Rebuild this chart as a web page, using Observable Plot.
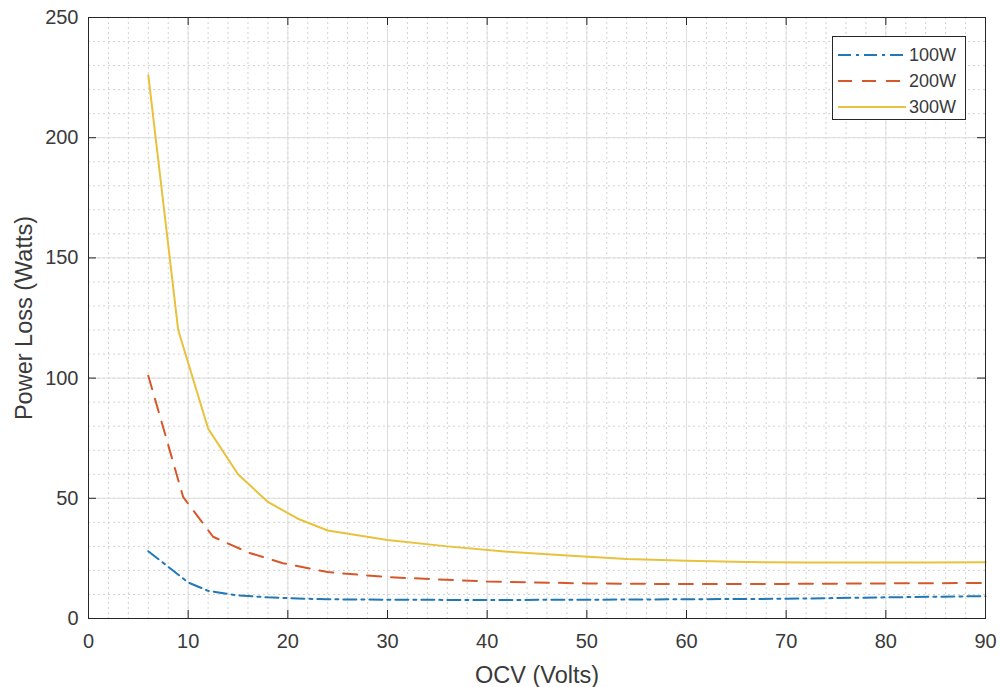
<!DOCTYPE html>
<html><head><meta charset="utf-8">
<script src="https://cdn.jsdelivr.net/npm/d3@7"></script>
<script src="https://cdn.jsdelivr.net/npm/@observablehq/plot@0.6"></script>
<style>
html,body{margin:0;padding:0;background:#fff;}
#wrap{position:relative;width:1000px;height:687px;}
#legend{position:absolute;left:832px;top:36px;width:132px;height:82px;border:1px solid #262626;background:#fff;font-family:"Liberation Sans",Arial,sans-serif;font-size:18px;color:#3a3a3a;}
.row{position:absolute;left:5px;height:26px;display:flex;align-items:center;}
.row svg{margin-right:3px;}
</style></head><body><div id="wrap"></div>
<script>
// ---- data ----
const seriesNames = ["100W", "200W", "300W"];
const ocv100 = [6, 10, 12, 15, 18, 21, 24, 30, 40, 50, 60, 70, 80, 90];
const loss100 = [28, 15, 11.5, 9.6, 8.8, 8.3, 8.0, 7.8, 7.7, 7.8, 8.0, 8.2, 8.8, 9.3];
const ocv200 = [6, 9.5, 12.5, 16, 19.5, 24, 30, 40, 50, 60, 70, 80, 90];
const loss200 = [101, 50.5, 34, 27.5, 23, 19.3, 17.2, 15.4, 14.6, 14.3, 14.4, 14.6, 14.8];
const ocv300 = [6, 9, 12, 15, 18, 21, 24, 30, 36, 42, 48, 54, 60, 66, 72, 78, 84, 90];
const loss300 = [226, 120, 79, 60, 48.5, 41.5, 36.6, 32.7, 30, 27.8, 26.2, 24.8, 24, 23.5, 23.3, 23.3, 23.3, 23.4];
const xTicks = [0, 10, 20, 30, 40, 50, 60, 70, 80, 90];
const yTicks = [0, 50, 100, 150, 200, 250];
const xMinor = d3.range(0, 91, 2);
const yMinor = d3.range(0, 251, 10);
const xLabel = "OCV (Volts)";
const yLabel = "Power Loss (Watts)";

// ---- styles ----
const styles = {
  "100W": {color: "#1f78b8", dash: "13,5,3,5"},
  "200W": {color: "#D6582A", dash: "14,10"},
  "300W": {color: "#E8C23C", dash: null}
};

const rows = [];
[[ocv100, loss100], [ocv200, loss200], [ocv300, loss300]].forEach(([xs, ys], i) => {
  xs.forEach((x, j) => rows.push({series: seriesNames[i], ocv: x, loss: ys[j]}));
});

const W = 1000, H = 687, mL = 88, mR = 15, mT = 17, mB = 69;
const pw = W - mL - mR, ph = H - mT - mB;
const tickLen = 8;
const font = '"Liberation Sans", Arial, sans-serif';
const axisColor = "#262626";
const textColor = "#3a3a3a";

const lineMarks = seriesNames.map(name => Plot.line(rows.filter(r => r.series === name), {
  x: "ocv", y: "loss", stroke: styles[name].color, strokeWidth: 2,
  strokeDasharray: styles[name].dash, strokeLinejoin: "round"
}));

const chart = Plot.plot({
  width: W, height: H,
  marginLeft: mL, marginRight: mR, marginTop: mT, marginBottom: mB,
  x: {domain: [0, 90]},
  y: {domain: [0, 250]},
  style: {fontFamily: font, fontSize: "20px", color: textColor, background: "#fff"},
  marks: [
    Plot.ruleX(xMinor, {stroke: "#d2d2d2", strokeDasharray: "2,3", strokeWidth: 1}),
    Plot.ruleY(yMinor, {stroke: "#d2d2d2", strokeDasharray: "2,3", strokeWidth: 1}),
    Plot.ruleX(xTicks, {stroke: "#dedede", strokeWidth: 1}),
    Plot.ruleY(yTicks, {stroke: "#dedede", strokeWidth: 1}),
    ...lineMarks,
    Plot.frame({stroke: axisColor, strokeWidth: 1}),
    Plot.tickX(xTicks, {x: d => d, insetTop: ph - tickLen, stroke: axisColor}),
    Plot.tickX(xTicks, {x: d => d, insetBottom: ph - tickLen, stroke: axisColor}),
    Plot.tickY(yTicks, {y: d => d, insetRight: pw - tickLen, stroke: axisColor}),
    Plot.tickY(yTicks, {y: d => d, insetLeft: pw - tickLen, stroke: axisColor}),
    Plot.axisX({ticks: xTicks, tickSize: 0, tickPadding: 15, label: null, fontSize: 20, fill: textColor}),
    Plot.axisY({ticks: yTicks, tickSize: 0, tickPadding: 10, label: null, fontSize: 20, fill: textColor}),
    Plot.text([xLabel], {text: d => d, frameAnchor: "bottom", dy: 64, lineAnchor: "bottom", textAnchor: "middle", fontSize: 23.5, fill: textColor}),
    Plot.text([yLabel], {text: d => d, frameAnchor: "left", dx: -57, rotate: -90, lineAnchor: "bottom", textAnchor: "middle", fontSize: 23.5, fill: textColor})
  ]
});

const wrap = document.getElementById("wrap");
wrap.appendChild(chart);

// legend overlay
const legend = document.createElement("div");
legend.id = "legend";
seriesNames.forEach((name, i) => {
  const row = document.createElement("div");
  row.className = "row";
  row.style.top = (5 + i * 26) + "px";
  const st = styles[name];
  row.innerHTML = `<svg width="68" height="10"><line x1="0" y1="5" x2="68" y2="5" stroke="${st.color}" stroke-width="2" ${st.dash ? `stroke-dasharray="${st.dash}"` : ""}/></svg><span>${name}</span>`;
  legend.appendChild(row);
});
wrap.appendChild(legend);
</script>
</body></html>
